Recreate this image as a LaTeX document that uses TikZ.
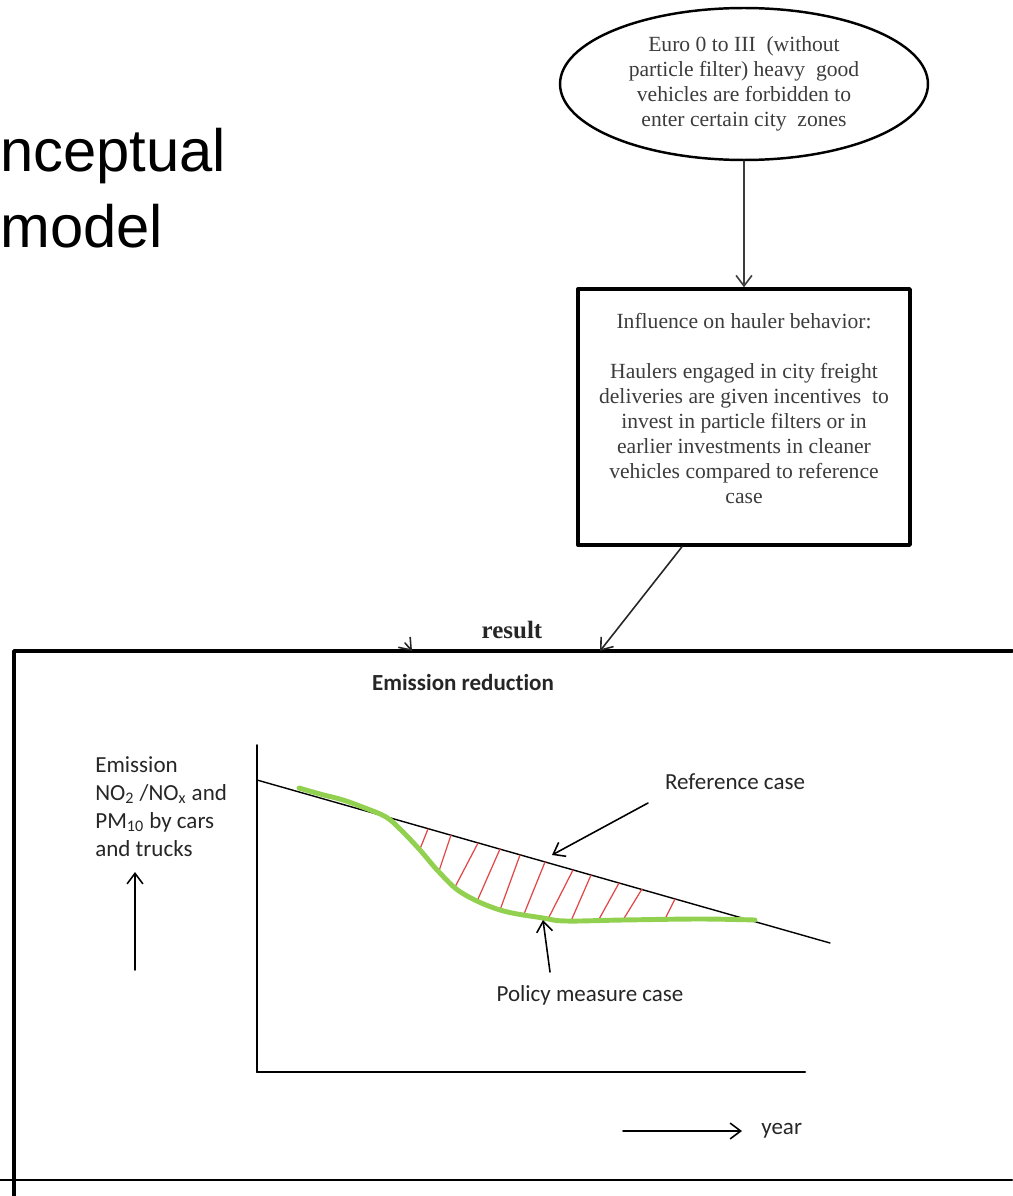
\documentclass[tikz,border=0pt]{standalone}
\usepackage{fontspec}
\setmainfont{Liberation Serif}
\setsansfont{Carlito}[Ligatures=NoCommon]
\newfontfamily\titlefont{Liberation Sans}
\usetikzlibrary{arrows.meta,shapes.geometric,positioning}

\definecolor{policygreen}{RGB}{146,208,80}
\definecolor{hatchred}{RGB}{226,70,70}
\definecolor{inkgray}{RGB}{60,60,60}

\tikzset{
    barb/.style={-{Straight Barb[length=6pt,width=9pt,line width=0.9pt]}},
    serifnote/.style={font=\fontsize{12.3}{14.2}\selectfont, align=center, text=inkgray},
    sanslabel/.style={font=\sffamily\fontsize{13.1}{16}\selectfont, inner sep=0pt, text=black!85},
    titleline/.style={anchor=base west, inner sep=0pt, font=\titlefont\fontsize{34}{40}\selectfont},
}

\begin{document}
\begin{tikzpicture}[x=0.02cm, y=-0.02cm, line cap=round, line join=round]
    \useasboundingbox (0,0) rectangle (1012,1196);

    % ==========================================
    % 1. Titolo (tagliato a sinistra)
    % ==========================================
    \node[titleline] (title1) at (0,172) {nceptual};
    \node[titleline] (title2) at (0,247) {model};

    % ==========================================
    % 2. Misura e comportamento
    % ==========================================
    \node[ellipse, draw, line width=1.4pt, minimum width=7.36cm, minimum height=3.04cm,
          inner sep=0pt, serifnote] (ban) at (744,84)
        {Euro 0 to III\ \ (without\\particle filter) heavy\ \ good\\vehicles are forbidden to\\enter certain city\ \ zones};

    \node[draw, line width=2pt, minimum width=6.64cm, minimum height=5.12cm,
          inner sep=0pt, text depth=0.34cm, serifnote] (hauler) at (744,417)
        {Influence on hauler behavior:\\[14.2pt]Haulers engaged\ in city freight\\deliveries are given incentives\ \ to\\invest in particle filters or in\\earlier investments\ in cleaner\\vehicles compared to reference\\case};

    \draw[barb, inkgray, line width=1pt] (ban.south) -- (hauler.north);

    % ==========================================
    % 3. Riquadro risultato
    % ==========================================
    \coordinate (frameNW) at (14,651);
    \coordinate (resultin) at (600,651);
    \coordinate (strayin) at (412,651);

    \draw[line width=2pt] (1012,651) -- (frameNW) -- (14,1196);
    \draw[line width=1.5pt] (0,1180) -- (1012,1180);

    \node[font=\bfseries\fontsize{14.2}{16}\selectfont, text=black!85, inner sep=0pt] (result) at (512,630) {result};

    \draw[barb, black!85, line width=0.9pt] ([xshift=-1.24cm]hauler.south) -- (resultin);
    \draw[barb, black!85, line width=0.9pt] (405,643) -- (strayin);

    \node[sanslabel, font=\sffamily\bfseries\fontsize{13.1}{16}\selectfont] (reduction) at (463,683) {Emission reduction};

    % ==========================================
    % 4. Grafico delle emissioni
    % ==========================================
    \coordinate (origin) at (257,1072);
    \draw[line width=0.9pt] (257,745) -- (origin);
    \draw[line width=1.2pt] (origin) -- (805,1072);

    % caso di riferimento
    \draw[line width=0.8pt] (257,780) -- (830,943);

    % area tratteggiata
    \foreach \xa/\ya/\xb/\yb in {420/849/428/829, 439/871/451/835, 455/887/478/843,
                                  478/899/500/849, 500/910/520/855, 524/914/545/862,
                                  548/919/573/870, 571/921/591/875, 598/921/619/883,
                                  623/920/642/889, 665/919/675/899}
        \draw[hatchred, line width=0.7pt] (\xa,\ya) -- (\xb,\yb);

    % caso con misura
    \draw[policygreen, line width=2.8pt] plot[smooth, tension=0.6] coordinates
        {(299,788) (320,794) (343,800) (365,808) (386,817) (401,830) (420,850)
         (439,872) (462,893) (500,910) (543,918) (566,921) (623,920) (700,919) (755,920)};

    \node[sanslabel] (refcase) at (735,782) {Reference case};
    \coordinate (reftail) at (648,803);
    \coordinate (refpoint) at (552,855);
    \draw[barb, line width=0.9pt] (reftail) -- (refpoint);

    \node[sanslabel] (policycase) at (590,995) {Policy measure case};
    \coordinate (policytail) at (550,972);
    \coordinate (policypoint) at (543,920);
    \draw[barb, line width=0.9pt] (policytail) -- (policypoint);

    % assi
    \node[sanslabel, align=left, anchor=north west] (ylabel) at (95,756)
        {Emission\\NO\textsubscript{2} /NO\textsubscript{x} and\\PM\textsubscript{10} by cars\\and trucks};
    \coordinate (ytail) at (135,970);
    \coordinate (ytip) at (135,872);
    \draw[barb, line width=0.9pt] (ytail) -- (ytip);

    \node[sanslabel, anchor=west] (year) at (761,1131) {year};
    \coordinate (xtail) at (623,1131);
    \draw[barb, line width=1pt] (xtail) -- ([xshift=-0.38cm]year.west);

\end{tikzpicture}
\end{document}
